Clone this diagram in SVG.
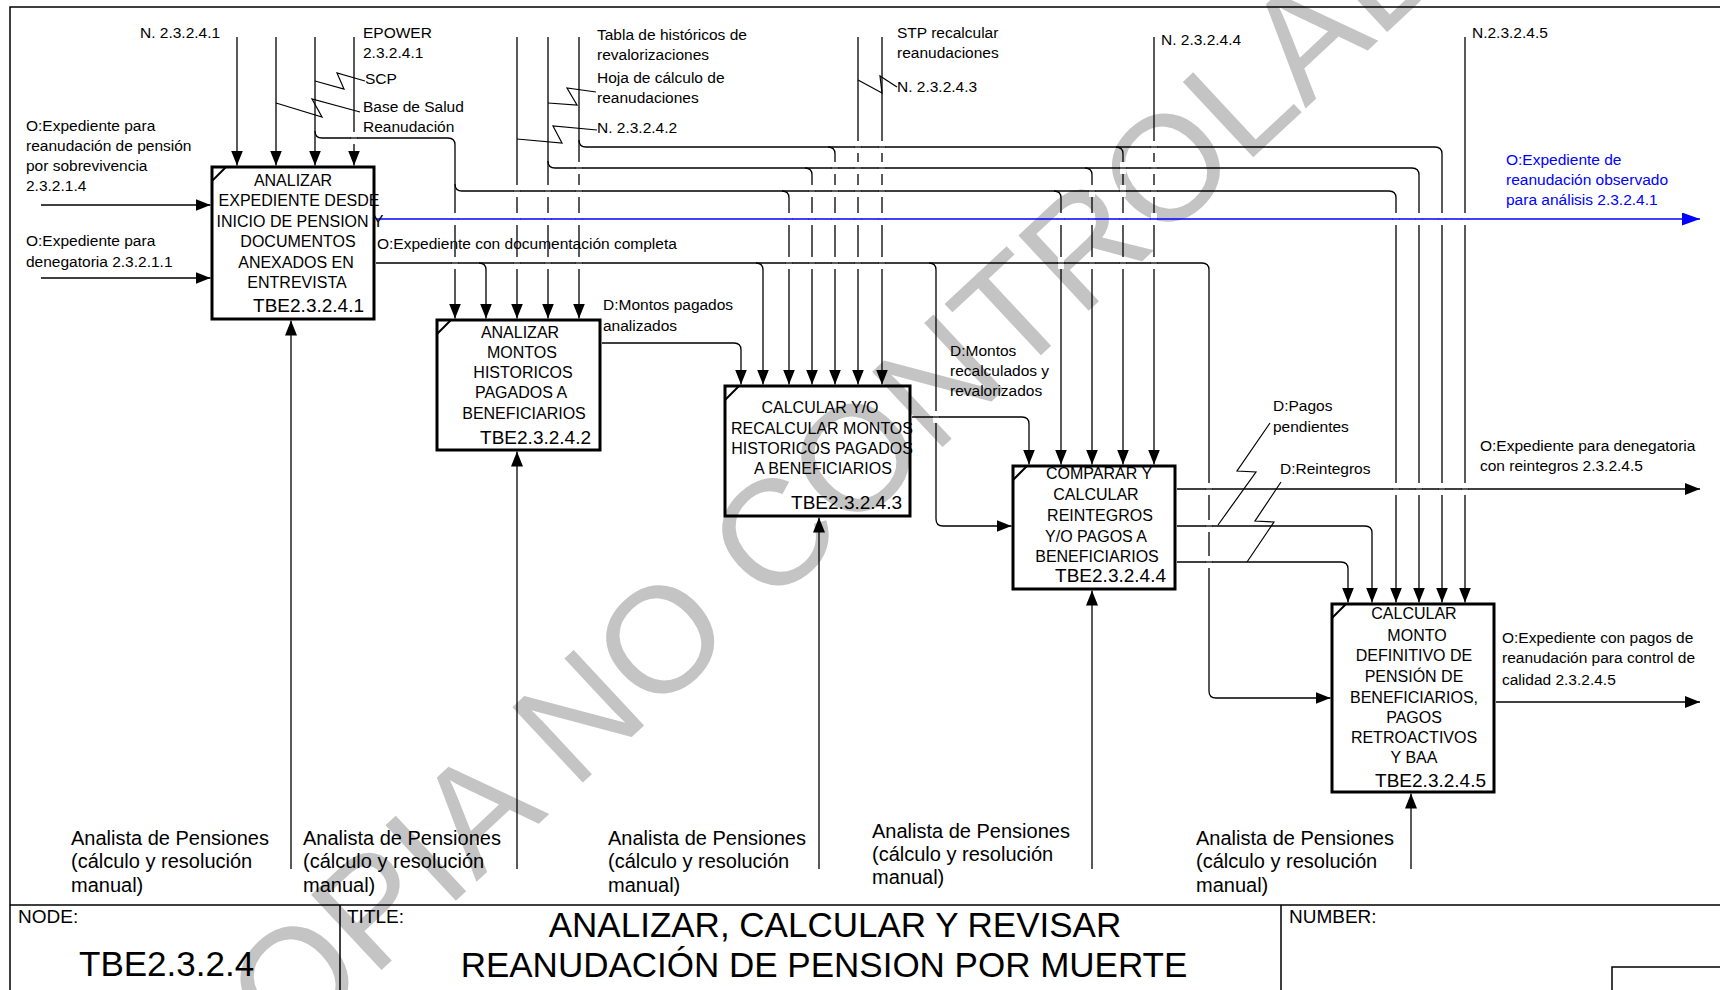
<svg xmlns="http://www.w3.org/2000/svg" xmlns:xlink="http://www.w3.org/1999/xlink" width="1720" height="990" viewBox="0 0 1720 990">
<style>
text{font-family:"Liberation Sans",Arial,sans-serif;fill:#000}
.t{font-size:15.5px}
.tb{font-size:15.5px;fill:#0000ff}
.b{font-size:16px;text-anchor:middle}
.id{font-size:19px;text-anchor:end}
.m{font-size:20px}
.h{font-size:19px}
.big{font-size:35px}
.box{fill:none;stroke:#000;stroke-width:3}
.cn{fill:none;stroke:#000;stroke-width:1.3}
.ar{marker-end:url(#ah)}
.sq{fill:none;stroke:#000;stroke-width:1.2}
.wm{font-family:"Liberation Sans",Arial,sans-serif;font-size:150px;fill:#c4c4c4}
</style>
<defs>
<marker id="ah" markerWidth="15" markerHeight="12" refX="15" refY="6" orient="auto" markerUnits="userSpaceOnUse"><path d="M0,0L15,6L0,12z" fill="#000"/></marker>
<marker id="ahb" markerWidth="18" markerHeight="13" refX="18" refY="6.5" orient="auto" markerUnits="userSpaceOnUse"><path d="M0,0L18,6.5L0,13z" fill="#0000ff"/></marker>
<g id="gk"><rect x="-3" y="-6" width="6" height="12" fill="#fff"/><path d="M-3.5,0H3.5" stroke="#000" stroke-width="1.3"/></g>
<g id="gb"><rect x="-3" y="-6" width="6" height="12" fill="#fff"/><path d="M-3.5,0H3.5" stroke="#0000ff" stroke-width="1.5"/></g>
</defs>
<rect width="1720" height="990" fill="#fff"/>
<g id="watermark"><text class="wm" transform="translate(208,1132) rotate(-43)">COPIA NO CONTROLADA</text></g>
<g id="frame" fill="none" stroke="#000" stroke-width="1.5">
<path d="M10,990V7H1720"/>
<path d="M10,905H1720M340,905V990M1281,905V990"/>
<rect x="1612" y="967" width="200" height="60"/>
</g>
<g id="titleblock">
<text class="h" x="18" y="923">NODE:</text>
<text class="big" x="79" y="976">TBE2.3.2.4</text>
<text class="h" x="347" y="923">TITLE:</text>
<text class="big" x="835" y="937" text-anchor="middle">ANALIZAR, CALCULAR Y REVISAR</text>
<text class="big" x="824" y="977" text-anchor="middle">REANUDACIÓN DE PENSION POR MUERTE</text>
<text class="h" x="1289" y="923">NUMBER:</text>
</g>
<g id="connectors">
<path class="cn ar" d="M237,37V165.5"/>
<path class="cn ar" d="M276,37V165.5"/>
<path class="cn ar" d="M315,37V165.5"/>
<path class="cn ar" d="M354,37V165.5"/>
<path class="cn ar" d="M315,131Q315,138 322,138H448Q455,138 455,145V318.5"/>
<path class="cn ar" d="M455,184Q455,191 462,191H1389Q1396,191 1396,198V602.5"/>
<path class="cn ar" d="M782,191Q789,191 789,198V384.5"/>
<path class="cn ar" d="M1054,191Q1061,191 1061,198V464.5"/>
<path class="cn ar" d="M517,37V318.5"/>
<path class="cn ar" d="M548,37V318.5"/>
<path class="cn ar" d="M579,37V318.5"/>
<path class="cn ar" d="M548,161Q548,168 555,168H1412Q1419,168 1419,175V602.5"/>
<path class="cn ar" d="M805,168Q812,168 812,175V384.5"/>
<path class="cn ar" d="M1085,168Q1092,168 1092,175V464.5"/>
<path class="cn ar" d="M579,140Q579,147 586,147H1435Q1442,147 1442,154V602.5"/>
<path class="cn ar" d="M828,147Q835,147 835,154V384.5"/>
<path class="cn ar" d="M1116,147Q1123,147 1123,154V464.5"/>
<path class="cn ar" d="M858,37V384.5"/>
<path class="cn ar" d="M882,37V384.5"/>
<path class="cn ar" d="M1154,37V464.5"/>
<path class="cn ar" d="M1465,37V602.5"/>
<path class="cn ar" d="M41,205H210.5"/>
<path class="cn ar" d="M41,278H210.5"/>
<path class="cn ar" d="M376,263H1202Q1209,263 1209,270V691Q1209,698 1216,698H1330.5"/>
<path class="cn ar" d="M479,263Q486,263 486,270V318.5"/>
<path class="cn ar" d="M756,263Q763,263 763,270V384.5"/>
<path class="cn ar" d="M929,263Q936,263 936,270V519Q936,526 943,526H1011.5"/>
<path fill="none" stroke="#0000ff" stroke-width="1.5" marker-end="url(#ahb)" d="M376,219H1700"/>
<path class="cn ar" d="M602,343H734Q741,343 741,350V384.5"/>
<path class="cn ar" d="M912,417H1022Q1029,417 1029,424V464.5"/>
<path class="cn ar" d="M1177,489H1700"/>
<path class="cn ar" d="M1177,526H1365Q1372,526 1372,533V602.5"/>
<path class="cn ar" d="M1177,562H1341Q1348,562 1348,569V602.5"/>
<path class="cn ar" d="M1496,702H1700"/>
<path class="cn ar" d="M291,869V320.5"/>
<path class="cn ar" d="M517,869V451.5"/>
<path class="cn ar" d="M819,869V517.5"/>
<path class="cn ar" d="M1092,869V590.5"/>
<path class="cn ar" d="M1411,869V793.5"/>
<use href="#gk" x="354" y="138"/>
<use href="#gk" x="858" y="147"/><use href="#gk" x="882" y="147"/><use href="#gk" x="1154" y="147"/>
<use href="#gk" x="579" y="168"/><use href="#gk" x="835" y="168"/><use href="#gk" x="858" y="168"/><use href="#gk" x="882" y="168"/><use href="#gk" x="1123" y="168"/><use href="#gk" x="1154" y="168"/>
<use href="#gk" x="517" y="191"/><use href="#gk" x="548" y="191"/><use href="#gk" x="579" y="191"/><use href="#gk" x="812" y="191"/><use href="#gk" x="835" y="191"/><use href="#gk" x="858" y="191"/><use href="#gk" x="882" y="191"/><use href="#gk" x="1092" y="191"/><use href="#gk" x="1123" y="191"/><use href="#gk" x="1154" y="191"/>
<use href="#gb" x="455" y="219"/><use href="#gb" x="517" y="219"/><use href="#gb" x="548" y="219"/><use href="#gb" x="579" y="219"/><use href="#gb" x="789" y="219"/><use href="#gb" x="812" y="219"/><use href="#gb" x="835" y="219"/><use href="#gb" x="858" y="219"/><use href="#gb" x="882" y="219"/><use href="#gb" x="1061" y="219"/><use href="#gb" x="1092" y="219"/><use href="#gb" x="1123" y="219"/><use href="#gb" x="1154" y="219"/><use href="#gb" x="1396" y="219"/><use href="#gb" x="1419" y="219"/><use href="#gb" x="1442" y="219"/><use href="#gb" x="1465" y="219"/>
<use href="#gk" x="455" y="263"/><use href="#gk" x="517" y="263"/><use href="#gk" x="548" y="263"/><use href="#gk" x="579" y="263"/><use href="#gk" x="789" y="263"/><use href="#gk" x="812" y="263"/><use href="#gk" x="835" y="263"/><use href="#gk" x="858" y="263"/><use href="#gk" x="882" y="263"/><use href="#gk" x="1061" y="263"/><use href="#gk" x="1092" y="263"/><use href="#gk" x="1123" y="263"/><use href="#gk" x="1154" y="263"/>
<use href="#gk" x="936" y="417"/>
<use href="#gk" x="1209" y="489"/><use href="#gk" x="1396" y="489"/><use href="#gk" x="1419" y="489"/><use href="#gk" x="1442" y="489"/><use href="#gk" x="1465" y="489"/>
<use href="#gk" x="1209" y="526"/><use href="#gk" x="1209" y="562"/>
<path class="sq" d="M315,81L344,89L337,73L365,81"/>
<path class="sq" d="M276,103L322,117L312,99L360,112"/>
<path class="sq" d="M548,103L577,105L567,88L596,92"/>
<path class="sq" d="M517,139L562,143L553,126L597,130"/>
<path class="sq" d="M858,80L882,93L880,76L897,87"/>
<path class="sq" d="M1218,525L1256,472L1237,471L1270,423"/>
<path class="sq" d="M1247,562L1274,522L1255,521L1281,482"/>
</g>
<g id="box1">
<rect class="box" x="212" y="167" width="162" height="152"/>
<path d="M212,181L226,167" stroke="#000" stroke-width="2"/>
<text class="b" x="293" y="186">ANALIZAR</text>
<text class="b" x="299" y="206">EXPEDIENTE DESDE</text>
<text class="b" x="300" y="227">INICIO DE PENSION Y</text>
<text class="b" x="298" y="247">DOCUMENTOS</text>
<text class="b" x="296" y="268">ANEXADOS EN</text>
<text class="b" x="297" y="288">ENTREVISTA</text>
<text class="id" x="364" y="312">TBE2.3.2.4.1</text>
</g>
<g id="box2">
<rect class="box" x="437" y="320" width="163" height="130"/>
<path d="M437,334L451,320" stroke="#000" stroke-width="2"/>
<text class="b" x="520" y="338">ANALIZAR</text>
<text class="b" x="522" y="358">MONTOS</text>
<text class="b" x="523" y="378">HISTORICOS</text>
<text class="b" x="521" y="398">PAGADOS A</text>
<text class="b" x="524" y="419">BENEFICIARIOS</text>
<text class="id" x="591" y="444">TBE2.3.2.4.2</text>
</g>
<g id="box3">
<rect class="box" x="725" y="386" width="185" height="130"/>
<path d="M725,400L739,386" stroke="#000" stroke-width="2"/>
<text class="b" x="820" y="413">CALCULAR Y/O</text>
<text class="b" x="822" y="434">RECALCULAR MONTOS</text>
<text class="b" x="822" y="454">HISTORICOS PAGADOS</text>
<text class="b" x="823" y="474">A BENEFICIARIOS</text>
<text class="id" x="902" y="509">TBE2.3.2.4.3</text>
</g>
<g id="box4">
<rect class="box" x="1013" y="466" width="162" height="123"/>
<path d="M1013,480L1027,466" stroke="#000" stroke-width="2"/>
<text class="b" x="1099" y="479">COMPARAR Y</text>
<text class="b" x="1096" y="500">CALCULAR</text>
<text class="b" x="1100" y="521">REINTEGROS</text>
<text class="b" x="1096" y="542">Y/O PAGOS A</text>
<text class="b" x="1097" y="562">BENEFICIARIOS</text>
<text class="id" x="1166" y="582">TBE2.3.2.4.4</text>
</g>
<g id="box5">
<rect class="box" x="1332" y="604" width="162" height="188"/>
<path d="M1332,618L1346,604" stroke="#000" stroke-width="2"/>
<text class="b" x="1414" y="619">CALCULAR</text>
<text class="b" x="1417" y="641">MONTO</text>
<text class="b" x="1414" y="661">DEFINITIVO DE</text>
<text class="b" x="1414" y="682">PENSIÓN DE</text>
<text class="b" x="1414" y="703">BENEFICIARIOS,</text>
<text class="b" x="1414" y="723">PAGOS</text>
<text class="b" x="1414" y="743">RETROACTIVOS</text>
<text class="b" x="1414" y="763">Y BAA</text>
<text class="id" x="1486" y="787">TBE2.3.2.4.5</text>
</g>
<g id="labels">
<text class="t" x="140" y="38">N. 2.3.2.4.1</text>
<text class="t" x="363" y="38">EPOWER</text>
<text class="t" x="363" y="58">2.3.2.4.1</text>
<text class="t" x="365" y="84">SCP</text>
<text class="t" x="363" y="112">Base de Salud</text>
<text class="t" x="363" y="132">Reanudación</text>
<text class="t" x="597" y="40">Tabla de históricos de</text>
<text class="t" x="597" y="60">revalorizaciones</text>
<text class="t" x="597" y="83">Hoja de cálculo de</text>
<text class="t" x="597" y="103">reanudaciones</text>
<text class="t" x="597" y="133">N. 2.3.2.4.2</text>
<text class="t" x="897" y="38">STP recalcular</text>
<text class="t" x="897" y="58">reanudaciones</text>
<text class="t" x="897" y="92">N. 2.3.2.4.3</text>
<text class="t" x="1161" y="45">N. 2.3.2.4.4</text>
<text class="t" x="1472" y="38">N.2.3.2.4.5</text>
<text class="t" x="26" y="131">O:Expediente para</text>
<text class="t" x="26" y="151">reanudación de pensión</text>
<text class="t" x="26" y="171">por sobrevivencia</text>
<text class="t" x="26" y="191">2.3.2.1.4</text>
<text class="t" x="26" y="246">O:Expediente para</text>
<text class="t" x="26" y="267">denegatoria 2.3.2.1.1</text>
<text class="t" x="377" y="249">O:Expediente con documentación completa</text>
<text class="tb" x="1506" y="165">O:Expediente de</text>
<text class="tb" x="1506" y="185">reanudación observado</text>
<text class="tb" x="1506" y="205">para análisis 2.3.2.4.1</text>
<text class="t" x="603" y="310">D:Montos pagados</text>
<text class="t" x="603" y="331">analizados</text>
<text class="t" x="950" y="356">D:Montos</text>
<text class="t" x="950" y="376">recalculados y</text>
<text class="t" x="950" y="396">revalorizados</text>
<text class="t" x="1273" y="411">D:Pagos</text>
<text class="t" x="1273" y="432">pendientes</text>
<text class="t" x="1280" y="474">D:Reintegros</text>
<text class="t" x="1480" y="451">O:Expediente para denegatoria</text>
<text class="t" x="1480" y="471">con reintegros 2.3.2.4.5</text>
<text class="t" x="1502" y="643">O:Expediente con pagos de</text>
<text class="t" x="1502" y="663">reanudación para control de</text>
<text class="t" x="1502" y="685">calidad 2.3.2.4.5</text>
<text class="m" x="71" y="845">Analista de Pensiones</text>
<text class="m" x="71" y="868">(cálculo y resolución</text>
<text class="m" x="71" y="892">manual)</text>
<text class="m" x="303" y="845">Analista de Pensiones</text>
<text class="m" x="303" y="868">(cálculo y resolución</text>
<text class="m" x="303" y="892">manual)</text>
<text class="m" x="608" y="845">Analista de Pensiones</text>
<text class="m" x="608" y="868">(cálculo y resolución</text>
<text class="m" x="608" y="892">manual)</text>
<text class="m" x="872" y="838">Analista de Pensiones</text>
<text class="m" x="872" y="861">(cálculo y resolución</text>
<text class="m" x="872" y="884">manual)</text>
<text class="m" x="1196" y="845">Analista de Pensiones</text>
<text class="m" x="1196" y="868">(cálculo y resolución</text>
<text class="m" x="1196" y="892">manual)</text>
</g>
</svg>
